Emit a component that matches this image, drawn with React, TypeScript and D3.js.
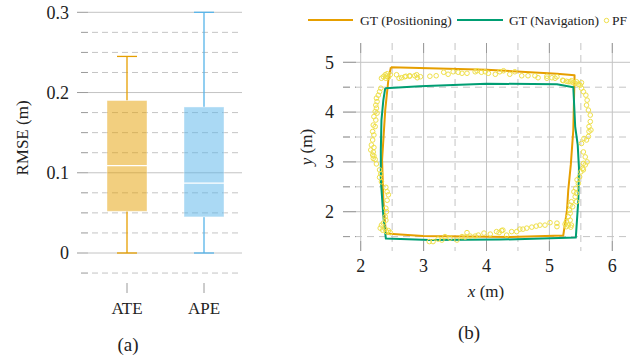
import React, { useRef, useEffect } from 'react';
import * as d3 from 'd3';

// (a) RMSE box plot
const categories = ['ATE', 'APE'];
const lowerWhisker = [0, 0];
const q1 = [0.052, 0.045];
const median = [0.109, 0.087];
const q3 = [0.19, 0.182];
const upperWhisker = [0.245, 0.3];
const boxColors = ['#E69F00', '#56B4E9'];
const rmseTicks = [0, 0.1, 0.2, 0.3];
const rmseMinorTicks = [-0.025, 0.025, 0.05, 0.075, 0.125, 0.15, 0.175, 0.225, 0.25, 0.275];

// (b) trajectories, metres
const gtPosX = [2.48, 4.0, 5.12, 5.4, 5.38, 5.34, 5.3, 5.28, 5.22, 4.37, 2.99, 2.63, 2.4, 2.36, 2.34, 2.39, 2.44, 2.48];
const gtPosY = [4.9, 4.85, 4.77, 4.74, 3.64, 2.94, 2.44, 2.03, 1.52, 1.49, 1.51, 1.54, 1.56, 2.24, 3.04, 4.04, 4.65, 4.9];
const gtNavX = [2.39, 2.94, 4.0, 5.12, 5.38, 5.41, 5.45, 5.47, 5.46, 5.42, 4.22, 3.1, 2.4, 2.36, 2.32, 2.32, 2.33, 2.36, 2.39];
const gtNavY = [4.48, 4.52, 4.57, 4.56, 4.5, 3.71, 3.34, 2.88, 2.24, 1.48, 1.44, 1.43, 1.46, 1.91, 2.64, 3.24, 3.84, 4.24, 4.48];
const pfX = [
  2.36, 2.39, 2.41, 2.44, 2.47, 2.33, 2.4, 2.42, 2.57, 2.61, 2.72, 2.78, 2.89,
  2.65, 2.7, 2.78, 2.86, 2.9, 2.95, 3.1, 3.2, 3.32, 3.39, 3.47, 3.55, 3.61, 3.69, 3.82, 3.85, 3.92, 3.98,
  4.03, 4.14, 4.21, 4.27, 4.37, 4.45, 4.56, 4.66, 4.77, 4.82, 4.96, 5.04, 5.09, 5.21, 5.27, 5.33,
  4.96, 5.12, 5.22, 5.3, 5.35, 5.38, 5.41, 5.43, 5.46, 5.49, 5.51, 5.51, 5.54, 5.58, 5.6, 5.59, 5.62,
  5.65, 5.65, 5.63, 5.66, 5.63, 5.62, 5.59, 5.55, 5.51, 5.54, 5.57, 5.54, 5.53,
  5.6, 5.57, 5.54, 5.5, 5.48, 5.44, 5.46, 5.42, 5.39, 5.43, 5.41, 5.43, 5.35, 5.33, 5.37, 5.32, 5.33,
  5.3, 5.33, 5.27, 5.3, 5.27, 5.34, 5.25, 5.35,
  5.12, 5.12, 5.01, 4.93, 4.85, 4.79, 4.72, 4.64, 4.58, 4.53, 4.48, 4.4, 4.32, 4.24,
  3.09, 3.15, 3.23, 3.29, 3.34, 3.42, 3.53, 3.61, 3.66, 3.69, 3.74, 3.82, 3.87, 3.96, 4.06, 4.16, 4.2, 4.26,
  2.2, 2.21, 2.23, 2.25, 2.3, 2.32, 2.3, 2.33, 2.4, 2.42, 2.44, 2.42, 2.4, 2.41, 2.39, 2.4, 2.36, 2.33,
  2.31, 2.35, 2.39, 2.41, 2.44, 2.47,
  2.32, 2.3, 2.28, 2.25, 2.26, 2.24, 2.25, 2.23, 2.26, 2.21, 2.24, 2.2, 2.23, 2.19, 2.21, 2.19, 2.17,
  2.21, 2.16, 2.19, 2.2,
];
const pfY = [
  4.71, 4.75, 4.72, 4.7, 4.75, 4.68, 4.68, 4.77, 4.75, 4.68, 4.72, 4.72, 4.75,
  4.69, 4.71, 4.73, 4.73, 4.69, 4.71, 4.72, 4.73, 4.8, 4.76, 4.81, 4.8, 4.78, 4.78, 4.81, 4.83, 4.8, 4.81,
  4.78, 4.76, 4.81, 4.83, 4.76, 4.81, 4.73, 4.73, 4.73, 4.69, 4.68, 4.69, 4.68, 4.64, 4.62, 4.61,
  4.72, 4.71, 4.63, 4.61, 4.63, 4.59, 4.58, 4.61, 4.56, 4.54, 4.59, 4.48, 4.41, 4.34, 4.24, 4.14, 4.04,
  3.94, 3.81, 3.71, 3.64, 3.61, 3.51, 3.44, 3.47, 3.37, 3.2, 3.1, 2.97, 2.87,
  3.0, 2.94, 2.84, 2.8, 2.7, 2.64, 2.57, 2.47, 2.4, 2.37, 2.3, 2.2, 2.2, 2.13, 2.1, 2.03, 1.97,
  1.9, 1.83, 1.8, 1.73, 1.7, 1.69, 1.75, 1.73,
  1.77, 1.7, 1.78, 1.73, 1.73, 1.71, 1.69, 1.67, 1.65, 1.65, 1.6, 1.6, 1.53, 1.62,
  1.4, 1.4, 1.45, 1.43, 1.5, 1.47, 1.43, 1.5, 1.49, 1.58, 1.51, 1.51, 1.53, 1.57, 1.55, 1.6, 1.58, 1.63,
  3.2, 3.12, 3.05, 2.96, 2.84, 2.76, 2.69, 2.6, 2.49, 2.4, 2.34, 2.23, 2.07, 2.0, 1.9, 1.83, 1.77, 1.73,
  1.67, 1.63, 1.65, 1.6, 1.62, 1.58,
  4.48, 4.41, 4.34, 4.28, 4.21, 4.14, 4.08, 4.01, 3.98, 3.91, 3.84, 3.74, 3.71, 3.61, 3.54, 3.44, 3.34,
  3.29, 3.24, 3.14, 3.07,
];
const posMajorTicks = [2, 3, 4, 5, 6];
const posMinorTicksX = [2.5, 3.5, 4.5, 5.5];
const posMajorTicksY = [2, 3, 4, 5];
const posMinorTicksY = [1.5, 2.5, 3.5, 4.5];

const ORANGE = '#E69F00';
const GREEN = '#009E73';
const YELLOW = '#EFE04A';
const FONT = '"Liberation Serif", "Times New Roman", serif';
const GRID = '#c4c4c4';
const TICK = '#9a9a9a';

export default function App() {
  const svgRef = useRef<SVGSVGElement>(null);

  useEffect(() => {
    const svg = d3.select(svgRef.current);
    svg.selectAll('*').remove();

    // ---------- (a) box plot ----------
    const y = d3.scaleLinear().domain([0, 0.3]).range([253, 12.3]);
    const x = d3.scalePoint<string>().domain(categories).range([88.5, 242.5]).padding(0.5);
    const gA = svg.append('g');

    rmseMinorTicks.forEach(t => {
      gA.append('line').attr('x1', 81).attr('x2', 88).attr('y1', y(t)).attr('y2', y(t))
        .attr('stroke', TICK).attr('stroke-width', 1);
      gA.append('line').attr('x1', 92).attr('x2', 242).attr('y1', y(t)).attr('y2', y(t))
        .attr('stroke', GRID).attr('stroke-width', 1).attr('stroke-dasharray', '6 4');
    });
    rmseTicks.forEach(t => {
      gA.append('line').attr('x1', 77).attr('x2', 88).attr('y1', y(t)).attr('y2', y(t))
        .attr('stroke', TICK).attr('stroke-width', 1);
      gA.append('line').attr('x1', 88).attr('x2', 242).attr('y1', y(t)).attr('y2', y(t))
        .attr('stroke', GRID).attr('stroke-width', 1);
      gA.append('text').attr('x', 69).attr('y', y(t)).attr('dy', '0.35em')
        .attr('text-anchor', 'end').attr('font-family', FONT).attr('font-size', 18).attr('fill', '#222')
        .text(t === 0 ? '0' : t.toFixed(1));
    });

    categories.forEach((c, i) => {
      const cx = x(c)!;
      const col = boxColors[i];
      // whiskers
      gA.append('line').attr('x1', cx).attr('x2', cx).attr('y1', y(upperWhisker[i])).attr('y2', y(q3[i]))
        .attr('stroke', col).attr('stroke-width', 1.3);
      gA.append('line').attr('x1', cx).attr('x2', cx).attr('y1', y(q1[i])).attr('y2', y(lowerWhisker[i]))
        .attr('stroke', col).attr('stroke-width', 1.3);
      [upperWhisker[i], lowerWhisker[i]].forEach(v => {
        gA.append('line').attr('x1', cx - 10).attr('x2', cx + 10).attr('y1', y(v)).attr('y2', y(v))
          .attr('stroke', col).attr('stroke-width', 1.3);
      });
      gA.append('rect').attr('x', cx - 20).attr('width', 40)
        .attr('y', y(q3[i])).attr('height', y(q1[i]) - y(q3[i]))
        .attr('fill', col).attr('fill-opacity', 0.5)
        .attr('stroke', '#fff').attr('stroke-opacity', 0.5).attr('stroke-width', 0.8);
      gA.append('line').attr('x1', cx - 20).attr('x2', cx + 20).attr('y1', y(median[i])).attr('y2', y(median[i]))
        .attr('stroke', '#fff').attr('stroke-width', 1.2);
      // category tick and label
      gA.append('line').attr('x1', cx).attr('x2', cx).attr('y1', 283).attr('y2', 293)
        .attr('stroke', TICK).attr('stroke-width', 1);
      gA.append('text').attr('x', cx).attr('y', 314).attr('text-anchor', 'middle')
        .attr('font-family', FONT).attr('font-size', 17).attr('fill', '#222').text(c);
    });

    gA.append('text').attr('transform', 'translate(28,138) rotate(-90)').attr('text-anchor', 'middle')
      .attr('font-family', FONT).attr('font-size', 17).attr('fill', '#222').text('RMSE (m)');
    gA.append('text').attr('x', 128).attr('y', 351).attr('text-anchor', 'middle')
      .attr('font-family', FONT).attr('font-size', 19).attr('fill', '#222').text('(a)');

    // ---------- (b) trajectories ----------
    const px = d3.scaleLinear().domain([2, 6]).range([360.7, 612.3]);
    const py = d3.scaleLinear().domain([2, 5]).range([211.7, 62.3]);
    const gB = svg.append('g');
    const xL = 343, xPlot = 356, xR = 630, yT = 43, yPlotT = 53, yPlotB = 241, yB = 251;

    posMinorTicksX.forEach(t => {
      gB.append('line').attr('x1', px(t)).attr('x2', px(t)).attr('y1', yT).attr('y2', yB)
        .attr('stroke', GRID).attr('stroke-dasharray', '7 5');
    });
    posMinorTicksY.forEach(t => {
      gB.append('line').attr('x1', xL).attr('x2', xR).attr('y1', py(t)).attr('y2', py(t))
        .attr('stroke', GRID).attr('stroke-dasharray', '7 5');
      gB.append('line').attr('x1', xL).attr('x2', xPlot).attr('y1', py(t)).attr('y2', py(t))
        .attr('stroke', TICK).attr('stroke-dasharray', '7 5');
    });
    posMajorTicks.forEach(t => {
      gB.append('line').attr('x1', px(t)).attr('x2', px(t)).attr('y1', yT).attr('y2', yB)
        .attr('stroke', GRID);
      gB.append('line').attr('x1', px(t)).attr('x2', px(t)).attr('y1', yPlotB).attr('y2', yB)
        .attr('stroke', TICK);
      gB.append('line').attr('x1', px(t)).attr('x2', px(t)).attr('y1', yT).attr('y2', yPlotT)
        .attr('stroke', TICK);
      gB.append('text').attr('x', px(t)).attr('y', 271.5).attr('text-anchor', 'middle')
        .attr('font-family', FONT).attr('font-size', 18).attr('fill', '#222').text(t);
    });
    posMajorTicksY.forEach(t => {
      gB.append('line').attr('x1', xL).attr('x2', xR).attr('y1', py(t)).attr('y2', py(t))
        .attr('stroke', GRID);
      gB.append('line').attr('x1', xL).attr('x2', xPlot).attr('y1', py(t)).attr('y2', py(t))
        .attr('stroke', TICK);
      gB.append('text').attr('x', 334).attr('y', py(t)).attr('dy', '0.35em').attr('text-anchor', 'end')
        .attr('font-family', FONT).attr('font-size', 18).attr('fill', '#222').text(t);
    });

    const line = d3.line<[number, number]>().x(d => px(d[0])).y(d => py(d[1]));
    gB.append('path').attr('d', line(gtPosX.map((v, i) => [v, gtPosY[i]]))!)
      .attr('fill', 'none').attr('stroke', ORANGE).attr('stroke-width', 2).attr('stroke-linejoin', 'round');
    gB.append('path').attr('d', line(gtNavX.map((v, i) => [v, gtNavY[i]]))!)
      .attr('fill', 'none').attr('stroke', GREEN).attr('stroke-width', 2).attr('stroke-linejoin', 'round');
    gB.selectAll('circle.pf').data(pfX.map((v, i) => [v, pfY[i]])).enter().append('circle')
      .attr('class', 'pf').attr('cx', d => px(d[0])).attr('cy', d => py(d[1])).attr('r', 2.3)
      .attr('fill', 'none').attr('stroke', YELLOW).attr('stroke-width', 1);

    const xt = gB.append('text').attr('x', 486).attr('y', 297).attr('text-anchor', 'middle')
      .attr('font-family', FONT).attr('font-size', 17).attr('fill', '#222');
    xt.append('tspan').attr('font-style', 'italic').text('x');
    xt.append('tspan').text(' (m)');
    const yt = gB.append('text').attr('transform', 'translate(312,147) rotate(-90)').attr('text-anchor', 'middle')
      .attr('font-family', FONT).attr('font-size', 17).attr('fill', '#222');
    yt.append('tspan').attr('font-style', 'italic').text('y');
    yt.append('tspan').text(' (m)');
    gB.append('text').attr('x', 469).attr('y', 339).attr('text-anchor', 'middle')
      .attr('font-family', FONT).attr('font-size', 19).attr('fill', '#222').text('(b)');

    // legend
    const lg = svg.append('g');
    lg.append('line').attr('x1', 308).attr('x2', 353).attr('y1', 20).attr('y2', 20)
      .attr('stroke', ORANGE).attr('stroke-width', 2);
    lg.append('text').attr('x', 360).attr('y', 24.5).attr('font-family', FONT).attr('font-size', 13.5)
      .attr('fill', '#222').text('GT (Positioning)');
    lg.append('line').attr('x1', 457).attr('x2', 503).attr('y1', 20).attr('y2', 20)
      .attr('stroke', GREEN).attr('stroke-width', 2);
    lg.append('text').attr('x', 509).attr('y', 24.5).attr('font-family', FONT).attr('font-size', 13.5)
      .attr('fill', '#222').text('GT (Navigation)');
    lg.append('circle').attr('cx', 606.5).attr('cy', 20.5).attr('r', 2.2)
      .attr('fill', 'none').attr('stroke', YELLOW).attr('stroke-width', 1);
    lg.append('text').attr('x', 612).attr('y', 24.5).attr('font-family', FONT).attr('font-size', 13.5)
      .attr('fill', '#222').text('PF');
  }, []);

  return (
    <svg ref={svgRef} width={644} height={363}
      style={{ position: 'absolute', left: 0, top: 0, background: '#fff' }} />
  );
}
